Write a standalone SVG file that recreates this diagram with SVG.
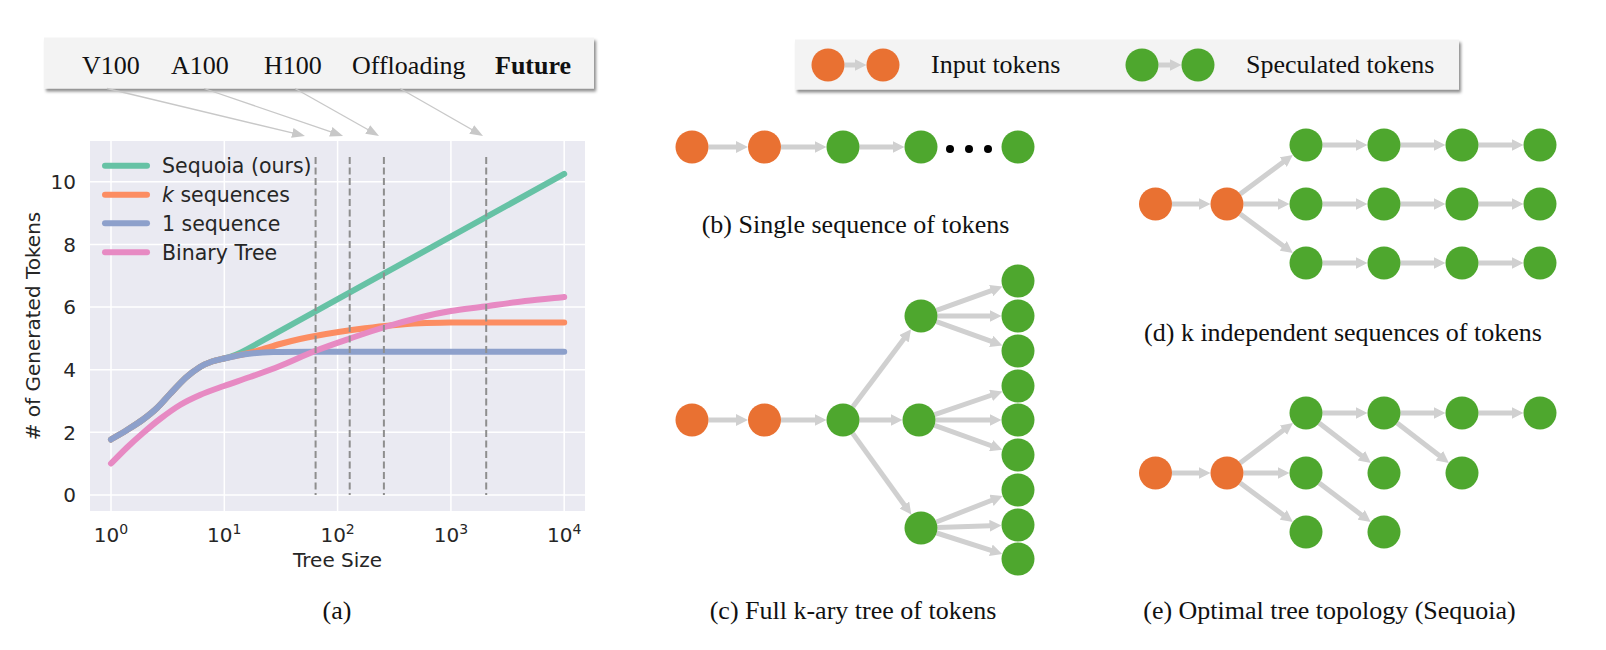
<svg xmlns="http://www.w3.org/2000/svg" width="1606" height="650" viewBox="0 0 1606 650">
<style>
.serif{font-family:"Liberation Serif","Times New Roman",serif;font-size:26px;fill:#111}
.sans{font-family:"DejaVu Sans",sans-serif;font-size:20px;fill:#262626}
.lg{font-family:"DejaVu Sans",sans-serif;font-size:20.5px;fill:#262626}
.o{fill:#E97132}
.g{fill:#4EA72E}
.edge{stroke:#D0D0D0;stroke-width:5;fill:none;marker-end:url(#ah)}
.pointer{stroke:#C8C8C8;stroke-width:1.3;fill:none;marker-end:url(#ah2)}
.grid{stroke:#FFFFFF;stroke-width:1.5}
.curve{fill:none;stroke-width:6;stroke-linecap:round;stroke-linejoin:round}
.dash{stroke:#8E8E8E;stroke-width:2;stroke-dasharray:7 3.5;fill:none}
.box{fill:#F3F3F3;filter:url(#sh)}
</style>
<defs>
<marker id="ah" markerUnits="userSpaceOnUse" markerWidth="12" markerHeight="12" viewBox="0 0 12 12" refX="1" refY="6" orient="auto"><path d="M0,0 L12,6 L0,12 z" fill="#D0D0D0"/></marker>
<marker id="ah2" markerUnits="userSpaceOnUse" markerWidth="13" markerHeight="10" viewBox="0 0 13 10" refX="1" refY="5" orient="auto"><path d="M0,0 L13,5 L0,10 z" fill="#C8C8C8"/></marker>
<filter id="sh" x="-5%" y="-20%" width="110%" height="150%"><feDropShadow dx="2" dy="3" stdDeviation="1.6" flood-color="#000" flood-opacity="0.45"/></filter>
</defs>
<rect width="1606" height="650" fill="#FFFFFF"/>

<!-- (a) hardware box -->
<g id="hw-box">
<rect class="box" x="44" y="37.5" width="550" height="51"/>
<text class="serif" x="82" y="74">V100</text>
<text class="serif" x="171" y="74">A100</text>
<text class="serif" x="264" y="74">H100</text>
<text class="serif" x="352" y="74">Offloading</text>
<text class="serif" x="495" y="74" font-weight="bold">Future</text>
</g>
<g id="hw-pointers">
<line class="pointer" x1="107" y1="88.5" x2="293.3" y2="133.2"/>
<line class="pointer" x1="204" y1="88.5" x2="331.7" y2="132.1"/>
<line class="pointer" x1="295" y1="88.5" x2="368.6" y2="130"/>
<line class="pointer" x1="400" y1="88.5" x2="472.6" y2="130"/>
</g>

<!-- (a) plot -->
<g id="plot">
<rect x="90" y="141" width="495" height="370" fill="#EAEAF2"/>
<g class="grid">
<line x1="111" y1="141" x2="111" y2="511"/>
<line x1="224.3" y1="141" x2="224.3" y2="511"/>
<line x1="337.6" y1="141" x2="337.6" y2="511"/>
<line x1="450.9" y1="141" x2="450.9" y2="511"/>
<line x1="564.2" y1="141" x2="564.2" y2="511"/>
<line x1="90" y1="495" x2="585" y2="495"/>
<line x1="90" y1="432.3" x2="585" y2="432.3"/>
<line x1="90" y1="369.7" x2="585" y2="369.7"/>
<line x1="90" y1="307" x2="585" y2="307"/>
<line x1="90" y1="244.4" x2="585" y2="244.4"/>
<line x1="90" y1="181.7" x2="585" y2="181.7"/>
</g>
<path class="curve" stroke="#66C2A5" d="M111,439.5 C113.7,437.9 121.7,433.3 127,430 C132.3,426.7 138,423.2 143,419.5 C148,415.8 152.5,412.3 157,408 C161.5,403.8 165.2,399.1 170,394 C174.8,388.9 181,382 186,377.5 C191,373 195.7,369.7 200,367 C204.3,364.3 208,362.9 212,361.5 C216,360.1 218.2,359.75 224,358.5 C229.8,357.25 237,354.8 247,349.3 L564.2,173.9"/>
<path class="curve" stroke="#FC8D62" d="M111,439.5 C113.7,437.9 121.7,433.3 127,430 C132.3,426.7 138,423.2 143,419.5 C148,415.8 152.5,412.3 157,408 C161.5,403.8 165.2,399.1 170,394 C174.8,388.9 181,382 186,377.5 C191,373 195.7,369.7 200,367 C204.3,364.3 208,362.9 212,361.5 C216,360.1 218.2,359.75 224,358.5 C229.8,357.2 240.7,355 247,353.5 C253.3,352 256.5,351.1 262,349.5 C267.5,347.9 273.7,345.75 280,344 C286.3,342.25 294.2,340.3 300,339 C305.8,337.7 308.3,337.2 315,336 C321.7,334.8 331.7,333.1 340,331.8 C348.3,330.5 356.7,329.35 365,328.3 C373.3,327.25 380.8,326.3 390,325.5 C399.2,324.7 410,323.8 420,323.3 C430,322.8 438.3,322.65 450,322.5 C461.7,322.35 471,322.4 490,322.4 L564.2,322.4"/>
<path class="curve" stroke="#8DA0CB" d="M111,439.5 C113.7,437.9 121.7,433.3 127,430 C132.3,426.7 138,423.2 143,419.5 C148,415.8 152.5,412.3 157,408 C161.5,403.8 165.2,399.1 170,394 C174.8,388.9 181,382 186,377.5 C191,373 195.7,369.7 200,367 C204.3,364.3 208,362.9 212,361.5 C216,360.1 218.2,359.75 224,358.5 C229.8,357.25 238.8,355.1 247,354 C255.2,352.9 262.5,352.4 273,352 C283.5,351.7 300,351.7 310,351.7 L564.2,351.7"/>
<path class="curve" stroke="#E78AC3" d="M111,463.5 C113.7,460.8 121.7,452.6 127,447.5 C132.3,442.4 137.5,437.75 143,433 C148.5,428.25 153.8,423.7 160,419 C166.2,414.3 173.3,409 180,405 C186.7,401 192.7,398.2 200,395 C207.3,391.8 215.7,389 224,386 C232.3,383 240.7,380.3 250,377 C259.3,373.7 269.2,370.3 280,366 C290.8,361.7 303.3,355.6 315,351 C326.7,346.4 338.3,342.5 350,338.5 C361.7,334.5 373.3,330.5 385,327 C396.7,323.5 409,320.2 420,317.5 C431,314.8 440.2,312.8 451,311 C461.8,309.2 472.7,308.2 485,306.5 C497.3,304.8 511.8,302.6 525,301 C538.2,299.4 557.7,297.7 564.2,297"/>
<line class="dash" x1="315.6" y1="157" x2="315.6" y2="495"/>
<line class="dash" x1="349.7" y1="157" x2="349.7" y2="495"/>
<line class="dash" x1="383.9" y1="157" x2="383.9" y2="495"/>
<line class="dash" x1="486.2" y1="157" x2="486.2" y2="495"/>
<g class="sans" text-anchor="end">
<text x="76" y="502">0</text>
<text x="76" y="439.5">2</text>
<text x="76" y="377">4</text>
<text x="76" y="314">6</text>
<text x="76" y="251.5">8</text>
<text x="76" y="189">10</text>
</g>
<g class="sans" text-anchor="middle">
<text x="111" y="542">10<tspan dy="-8" font-size="14">0</tspan></text>
<text x="224.3" y="542">10<tspan dy="-8" font-size="14">1</tspan></text>
<text x="337.6" y="542">10<tspan dy="-8" font-size="14">2</tspan></text>
<text x="450.9" y="542">10<tspan dy="-8" font-size="14">3</tspan></text>
<text x="564.2" y="542">10<tspan dy="-8" font-size="14">4</tspan></text>
<text x="337.6" y="567">Tree Size</text>
<text x="40" y="326" transform="rotate(-90 40 326)"># of Generated Tokens</text>
</g>
<g id="legend-a">
<line x1="105" y1="165.7" x2="147" y2="165.7" stroke="#66C2A5" stroke-width="6" stroke-linecap="round"/>
<line x1="105" y1="194.7" x2="147" y2="194.7" stroke="#FC8D62" stroke-width="6" stroke-linecap="round"/>
<line x1="105" y1="223.3" x2="147" y2="223.3" stroke="#8DA0CB" stroke-width="6" stroke-linecap="round"/>
<line x1="105" y1="252.3" x2="147" y2="252.3" stroke="#E78AC3" stroke-width="6" stroke-linecap="round"/>
<text class="lg" x="162" y="173">Sequoia (ours)</text>
<text class="lg" x="162" y="202"><tspan font-style="italic">k</tspan> sequences</text>
<text class="lg" x="162" y="230.6">1 sequence</text>
<text class="lg" x="162" y="259.6">Binary Tree</text>
</g>
</g>
<text class="serif" x="337" y="619" text-anchor="middle">(a)</text>

<!-- legend top right -->
<g id="token-legend">
<rect class="box" x="795" y="39.5" width="664" height="50"/>
<line class="edge" x1="844.5" y1="65" x2="855.5" y2="65"/>
<line class="edge" x1="1158.5" y1="65" x2="1170.5" y2="65"/>
<circle class="o" cx="828" cy="65" r="16.5"/>
<circle class="o" cx="883" cy="65" r="16.5"/>
<circle class="g" cx="1142" cy="65" r="16.5"/>
<circle class="g" cx="1198" cy="65" r="16.5"/>
<text class="serif" x="931" y="73">Input tokens</text>
<text class="serif" x="1246" y="73">Speculated tokens</text>
</g>

<!-- connectors -->
<g id="connectors">
<!-- (b) -->
<line class="edge" x1="708.5" y1="147" x2="737" y2="147"/>
<line class="edge" x1="781" y1="147" x2="815.5" y2="147"/>
<line class="edge" x1="859.5" y1="147" x2="893.5" y2="147"/>
<!-- (c) -->
<line class="edge" x1="708.5" y1="420" x2="737" y2="420"/>
<line class="edge" x1="781" y1="420" x2="815.5" y2="420"/>
<line class="edge" x1="859.5" y1="420" x2="891.5" y2="420"/>
<line class="edge" x1="852.9" y1="406.8" x2="904.5" y2="338"/>
<line class="edge" x1="852.7" y1="433.4" x2="904.9" y2="505.7"/>
<line class="edge" x1="936.5" y1="310.4" x2="992.1" y2="290.3"/>
<line class="edge" x1="937.5" y1="316" x2="990.5" y2="316"/>
<line class="edge" x1="936.5" y1="321.6" x2="992.1" y2="341.7"/>
<line class="edge" x1="934.6" y1="414.6" x2="992" y2="395"/>
<line class="edge" x1="935.5" y1="420" x2="990.5" y2="420"/>
<line class="edge" x1="934.6" y1="425.4" x2="992" y2="446"/>
<line class="edge" x1="936.4" y1="522" x2="992.4" y2="500"/>
<line class="edge" x1="937.5" y1="527.5" x2="990.5" y2="525.8"/>
<line class="edge" x1="936.7" y1="533" x2="991.8" y2="550.6"/>
<!-- (d) -->
<line class="edge" x1="1172" y1="204" x2="1199.5" y2="204"/>
<line class="edge" x1="1240.2" y1="194.1" x2="1284" y2="161.5"/>
<line class="edge" x1="1243.5" y1="204" x2="1278.5" y2="204"/>
<line class="edge" x1="1240.2" y1="213.9" x2="1284" y2="246.5"/>
<line class="edge" x1="1322.5" y1="145" x2="1356.5" y2="145"/>
<line class="edge" x1="1400.5" y1="145" x2="1434.5" y2="145"/>
<line class="edge" x1="1478.5" y1="145" x2="1512.5" y2="145"/>
<line class="edge" x1="1322.5" y1="204" x2="1356.5" y2="204"/>
<line class="edge" x1="1400.5" y1="204" x2="1434.5" y2="204"/>
<line class="edge" x1="1478.5" y1="204" x2="1512.5" y2="204"/>
<line class="edge" x1="1322.5" y1="263" x2="1356.5" y2="263"/>
<line class="edge" x1="1400.5" y1="263" x2="1434.5" y2="263"/>
<line class="edge" x1="1478.5" y1="263" x2="1512.5" y2="263"/>
<!-- (e) -->
<line class="edge" x1="1172" y1="473" x2="1199.5" y2="473"/>
<line class="edge" x1="1240.1" y1="463" x2="1284.2" y2="429.6"/>
<line class="edge" x1="1243.5" y1="473" x2="1278.5" y2="473"/>
<line class="edge" x1="1240.2" y1="482.9" x2="1284" y2="515.5"/>
<line class="edge" x1="1322.5" y1="413" x2="1356.5" y2="413"/>
<line class="edge" x1="1319.1" y1="423.1" x2="1362.2" y2="456.2"/>
<line class="edge" x1="1319.2" y1="483" x2="1362" y2="515.4"/>
<line class="edge" x1="1400.5" y1="413" x2="1434.5" y2="413"/>
<line class="edge" x1="1397.1" y1="423.1" x2="1440.2" y2="456.2"/>
<line class="edge" x1="1478.5" y1="413" x2="1512.5" y2="413"/>
</g>

<!-- (b) single sequence -->
<g id="b-nodes">
<circle id="b1" class="o" cx="692" cy="147" r="16.5"/>
<circle id="b2" class="o" cx="764.5" cy="147" r="16.5"/>
<circle id="b3" class="g" cx="843" cy="147" r="16.5"/>
<circle id="b4" class="g" cx="921" cy="147" r="16.5"/>
<circle id="b5" class="g" cx="1018" cy="147" r="16.5"/>
<circle cx="950" cy="149" r="4" fill="#000"/>
<circle cx="969" cy="149" r="4" fill="#000"/>
<circle cx="988" cy="149" r="4" fill="#000"/>
</g>
<text class="serif" x="855.5" y="233" text-anchor="middle">(b) Single sequence of tokens</text>

<!-- (c) full k-ary tree -->
<g id="c-nodes">
<circle class="o" cx="692" cy="420" r="16.5"/>
<circle class="o" cx="764.5" cy="420" r="16.5"/>
<circle class="g" cx="843" cy="420" r="16.5"/>
<circle class="g" cx="921" cy="316" r="16.5"/>
<circle class="g" cx="919" cy="420" r="16.5"/>
<circle class="g" cx="921" cy="528" r="16.5"/>
<circle class="g" cx="1018" cy="281" r="16.5"/>
<circle class="g" cx="1018" cy="316" r="16.5"/>
<circle class="g" cx="1018" cy="351" r="16.5"/>
<circle class="g" cx="1018" cy="386" r="16.5"/>
<circle class="g" cx="1018" cy="420" r="16.5"/>
<circle class="g" cx="1018" cy="455" r="16.5"/>
<circle class="g" cx="1018" cy="490" r="16.5"/>
<circle class="g" cx="1018" cy="525" r="16.5"/>
<circle class="g" cx="1018" cy="559" r="16.5"/>
</g>
<text class="serif" x="853" y="619" text-anchor="middle">(c) Full k-ary tree of tokens</text>

<!-- (d) k independent sequences -->
<g id="d-nodes">
<circle class="o" cx="1155.5" cy="204" r="16.5"/>
<circle class="o" cx="1227" cy="204" r="16.5"/>
<circle class="g" cx="1306" cy="145" r="16.5"/>
<circle class="g" cx="1384" cy="145" r="16.5"/>
<circle class="g" cx="1462" cy="145" r="16.5"/>
<circle class="g" cx="1540" cy="145" r="16.5"/>
<circle class="g" cx="1306" cy="204" r="16.5"/>
<circle class="g" cx="1384" cy="204" r="16.5"/>
<circle class="g" cx="1462" cy="204" r="16.5"/>
<circle class="g" cx="1540" cy="204" r="16.5"/>
<circle class="g" cx="1306" cy="263" r="16.5"/>
<circle class="g" cx="1384" cy="263" r="16.5"/>
<circle class="g" cx="1462" cy="263" r="16.5"/>
<circle class="g" cx="1540" cy="263" r="16.5"/>
</g>
<text class="serif" x="1343" y="341" text-anchor="middle">(d) k independent sequences of tokens</text>

<!-- (e) optimal tree -->
<g id="e-nodes">
<circle class="o" cx="1155.5" cy="473" r="16.5"/>
<circle class="o" cx="1227" cy="473" r="16.5"/>
<circle class="g" cx="1306" cy="413" r="16.5"/>
<circle class="g" cx="1306" cy="473" r="16.5"/>
<circle class="g" cx="1306" cy="532" r="16.5"/>
<circle class="g" cx="1384" cy="413" r="16.5"/>
<circle class="g" cx="1384" cy="473" r="16.5"/>
<circle class="g" cx="1384" cy="532" r="16.5"/>
<circle class="g" cx="1462" cy="413" r="16.5"/>
<circle class="g" cx="1462" cy="473" r="16.5"/>
<circle class="g" cx="1540" cy="413" r="16.5"/>
</g>
<text class="serif" x="1329.5" y="619" text-anchor="middle">(e) Optimal tree topology (Sequoia)</text>
</svg>
